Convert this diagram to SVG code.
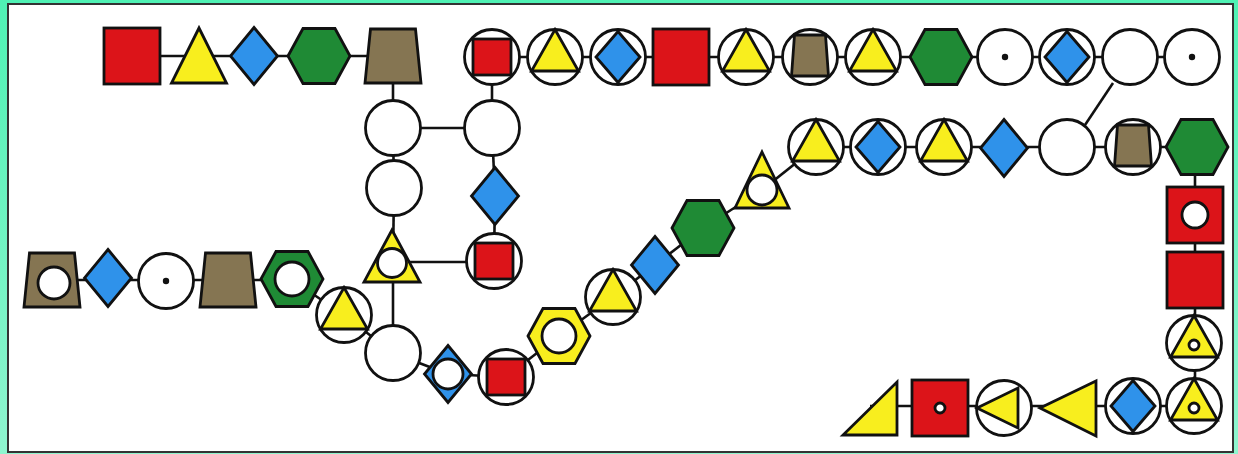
<svg xmlns="http://www.w3.org/2000/svg" xmlns:xlink="http://www.w3.org/1999/xlink" width="1238" height="454" viewBox="0 0 1238 454">
<style>
.k{stroke:#111;stroke-width:2.8;stroke-linejoin:miter}
.r{fill:#dc1419}.y{fill:#f8ee1e}.b{fill:#2f92ea}.g{fill:#1f8a35}.t{fill:#857552}.w{fill:#fff}.d{fill:#111}
#links line{stroke:#111;stroke-width:2.6}
</style>
<defs>
<linearGradient id="bg" x1="0" y1="0" x2="0" y2="1"><stop offset="0" stop-color="#4ff2b4"/><stop offset="1" stop-color="#8ff5cf"/></linearGradient>
<rect id="sq" class="k r" x="-28" y="-28" width="56" height="56"/>
<polygon id="tri" class="k y" points="0,-28 27.5,27 -27.5,27"/>
<polygon id="dia" class="k b" points="0,-28.5 23.5,0 0,28.5 -23.5,0"/>
<polygon id="hex" class="k g" points="-31,0 -16,-27.5 16,-27.5 31,0 16,27.5 -16,27.5"/>
<polygon id="yhex" class="k y" points="-31,0 -16,-27.5 16,-27.5 31,0 16,27.5 -16,27.5"/>
<polygon id="trap" class="k t" points="-22.5,-27 22.5,-27 28,27 -28,27"/>
<circle id="circ" class="k w" r="27.5"/>
<rect id="csq" class="k r" x="-19" y="-18" width="38" height="36"/>
<polygon id="ctri" class="k y" points="0,-27.5 23.5,14 -23.5,14"/>
<polygon id="cdia" class="k b" points="0,-25.5 22,0 0,25.5 -22,0"/>
<polygon id="ctrap" class="k t" points="-15.5,-22 15.5,-22 18.5,19 -18.5,19"/>
<circle id="dot" class="d" r="3.2"/>
<circle id="ring" class="k w" r="5"/>
<circle id="inc" class="k w" r="15"/>
</defs>
<rect x="0" y="0" width="1238" height="454" fill="url(#bg)"/>
<rect x="8" y="4" width="1225" height="448" fill="#fff" stroke="#333" stroke-width="2"/>

<g id="links">
<line x1="132" y1="56" x2="393" y2="56"/>
<line x1="393" y1="56" x2="393" y2="128"/>
<line x1="393" y1="128" x2="492" y2="128"/>
<line x1="393" y1="128" x2="394" y2="188"/>
<line x1="394" y1="188" x2="393" y2="262"/>
<line x1="393" y1="262" x2="494" y2="262"/>
<line x1="393" y1="262" x2="393" y2="353"/>
<line x1="492" y1="57" x2="492" y2="128"/>
<line x1="492" y1="128" x2="495" y2="196"/>
<line x1="495" y1="196" x2="494" y2="261"/>
<line x1="492" y1="57" x2="1192" y2="57"/>
<line x1="1113" y1="83" x2="1085" y2="125"/>
<line x1="762" y1="190" x2="816" y2="147"/>
<line x1="816" y1="147" x2="1197" y2="147"/>
<line x1="1195" y1="147" x2="1195" y2="406"/>
<line x1="1195" y1="406" x2="870" y2="406"/>
<line x1="762" y1="190" x2="703" y2="228"/>
<line x1="703" y1="228" x2="655" y2="265"/>
<line x1="655" y1="265" x2="613" y2="297"/>
<line x1="613" y1="297" x2="559" y2="336"/>
<line x1="559" y1="336" x2="506" y2="377"/>
<line x1="506" y1="377" x2="448" y2="374"/>
<line x1="448" y1="374" x2="393" y2="353"/>
<line x1="52" y1="280" x2="292" y2="280"/>
<line x1="292" y1="280" x2="344" y2="315"/>
<line x1="344" y1="315" x2="393" y2="353"/>
</g>

<!-- row 1 left -->
<g id="n1" transform="translate(132,56)"><use xlink:href="#sq"/></g>
<g id="n2" transform="translate(199,56)"><use xlink:href="#tri"/></g>
<g id="n3" transform="translate(254,56)"><use xlink:href="#dia"/></g>
<g id="n4" transform="translate(319,56)"><use xlink:href="#hex"/></g>
<g id="n5" transform="translate(393,56)"><use xlink:href="#trap"/></g>
<g id="n6" transform="translate(393,128)"><use xlink:href="#circ"/></g>
<g id="n7" transform="translate(394,188)"><use xlink:href="#circ"/></g>
<g id="n8" transform="translate(392,263)"><polygon class="k y" points="0,-33 28,19 -28,19"/><circle class="k w" r="14.5"/></g>
<g id="n9" transform="translate(492,128)"><use xlink:href="#circ"/></g>
<g id="n10" transform="translate(495,196)"><use xlink:href="#dia"/></g>
<g id="n11" transform="translate(494,261)"><use xlink:href="#circ"/><use xlink:href="#csq"/></g>
<g id="n12" transform="translate(393,353)"><use xlink:href="#circ"/></g>

<!-- row 1 right -->
<g id="n13" transform="translate(492,57)"><use xlink:href="#circ"/><use xlink:href="#csq"/></g>
<g id="n14" transform="translate(555,57)"><use xlink:href="#circ"/><use xlink:href="#ctri"/></g>
<g id="n15" transform="translate(618,57)"><use xlink:href="#circ"/><use xlink:href="#cdia"/></g>
<g id="n16" transform="translate(681,57)"><use xlink:href="#sq"/></g>
<g id="n17" transform="translate(746,57)"><use xlink:href="#circ"/><use xlink:href="#ctri"/></g>
<g id="n18" transform="translate(810,57)"><use xlink:href="#circ"/><use xlink:href="#ctrap"/></g>
<g id="n19" transform="translate(873,57)"><use xlink:href="#circ"/><use xlink:href="#ctri"/></g>
<g id="n20" transform="translate(941,57)"><use xlink:href="#hex"/></g>
<g id="n21" transform="translate(1005,57)"><use xlink:href="#circ"/><use xlink:href="#dot"/></g>
<g id="n22" transform="translate(1067,57)"><use xlink:href="#circ"/><use xlink:href="#cdia"/></g>
<g id="n23" transform="translate(1130,57)"><use xlink:href="#circ"/></g>
<g id="n24" transform="translate(1192,57)"><use xlink:href="#circ"/><use xlink:href="#dot"/></g>

<!-- row 2 -->
<g id="n25" transform="translate(762,190)"><polygon class="k y" points="0,-38 27,18 -27,18"/><circle class="k w" r="15"/></g>
<g id="n26" transform="translate(816,147)"><use xlink:href="#circ"/><use xlink:href="#ctri"/></g>
<g id="n27" transform="translate(878,147)"><use xlink:href="#circ"/><use xlink:href="#cdia"/></g>
<g id="n28" transform="translate(944,147)"><use xlink:href="#circ"/><use xlink:href="#ctri"/></g>
<g id="n29" transform="translate(1004,148)"><use xlink:href="#dia"/></g>
<g id="n30" transform="translate(1067,147)"><use xlink:href="#circ"/></g>
<g id="n31" transform="translate(1133,147)"><use xlink:href="#circ"/><use xlink:href="#ctrap"/></g>
<g id="n32" transform="translate(1197,147)"><use xlink:href="#hex"/></g>

<!-- right column -->
<g id="n33" transform="translate(1195,215)"><use xlink:href="#sq"/><circle class="k w" r="13"/></g>
<g id="n34" transform="translate(1195,280)"><use xlink:href="#sq"/></g>
<g id="n35" transform="translate(1194,343)"><use xlink:href="#circ"/><use xlink:href="#ctri"/><use xlink:href="#ring" y="2"/></g>
<g id="n36" transform="translate(1194,406)"><use xlink:href="#circ"/><use xlink:href="#ctri"/><use xlink:href="#ring" y="2"/></g>

<!-- bottom row -->
<g id="n37" transform="translate(1133,406)"><use xlink:href="#circ"/><use xlink:href="#cdia"/></g>
<g id="n38" transform="translate(1068,408)"><polygon class="k y" points="-28,0 28,-27 28,28"/></g>
<g id="n39" transform="translate(1004,408)"><use xlink:href="#circ"/><polygon class="k y" points="-27,0 14,-20 14,20"/></g>
<g id="n40" transform="translate(940,408)"><use xlink:href="#sq"/><use xlink:href="#ring"/></g>
<g id="n41"><polygon class="k y" points="843,435 897,435 897,382"/></g>

<!-- diagonal chain -->
<g id="n42" transform="translate(703,228)"><use xlink:href="#hex"/></g>
<g id="n43" transform="translate(655,265)"><use xlink:href="#dia"/></g>
<g id="n44" transform="translate(613,297)"><use xlink:href="#circ"/><use xlink:href="#ctri"/></g>
<g id="n45" transform="translate(559,336)"><use xlink:href="#yhex"/><circle class="k w" r="17"/></g>
<g id="n46" transform="translate(506,377)"><use xlink:href="#circ"/><use xlink:href="#csq"/></g>
<g id="n47" transform="translate(448,374)"><use xlink:href="#dia"/><use xlink:href="#inc"/></g>

<!-- left row -->
<g id="n48" transform="translate(52,280)"><use xlink:href="#trap"/><circle class="k w" cx="2" cy="3" r="16"/></g>
<g id="n49" transform="translate(108,278)"><use xlink:href="#dia"/></g>
<g id="n50" transform="translate(166,281)"><use xlink:href="#circ"/><use xlink:href="#dot"/></g>
<g id="n51" transform="translate(228,280)"><use xlink:href="#trap"/></g>
<g id="n52" transform="translate(292,279)"><use xlink:href="#hex"/><circle class="k w" r="17"/></g>
<g id="n53" transform="translate(344,315)"><use xlink:href="#circ"/><use xlink:href="#ctri"/></g>
</svg>
